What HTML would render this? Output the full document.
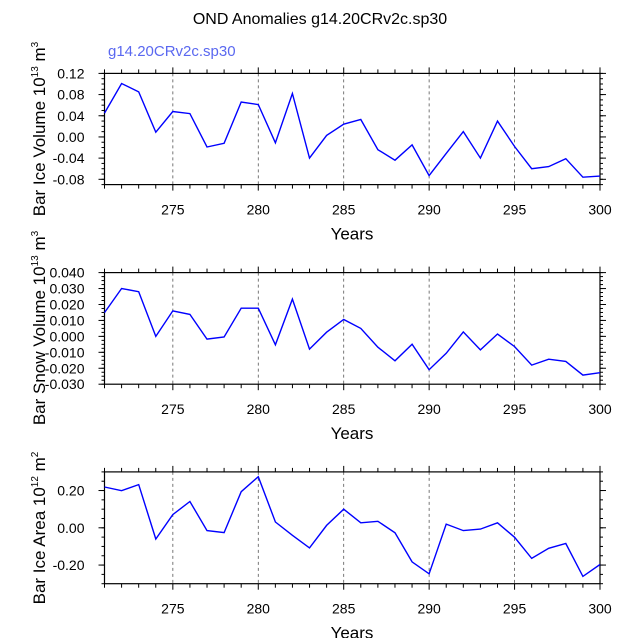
<!DOCTYPE html>
<html><head><meta charset="utf-8"><style>
html,body{margin:0;padding:0;background:#fff}
svg{display:block;font-family:"Liberation Sans",Arial,sans-serif}
</style></head><body>
<svg id="c" width="638" height="638" viewBox="0 0 638 638">
<text x="320" y="24" text-anchor="middle" font-size="16">OND Anomalies g14.20CRv2c.sp30</text>
<text x="108" y="56" font-size="15" fill="#5a68f0">g14.20CRv2c.sp30</text>
</svg>
<script>
const years = [271,272,273,274,275,276,277,278,279,280,281,282,283,284,285,286,287,288,289,290,291,292,293,294,295,296,297,298,299,300];
const iceVolume = [0.045,0.101,0.085,0.009,0.048,0.044,-0.019,-0.012,0.066,0.061,-0.011,0.082,-0.040,0.003,0.024,0.033,-0.024,-0.044,-0.015,-0.073,-0.031,0.010,-0.040,0.030,-0.018,-0.060,-0.056,-0.041,-0.076,-0.074];
const snowVolume = [0.0149,0.030,0.028,0.000,0.016,0.0138,-0.0017,-0.0004,0.0177,0.0177,-0.0053,0.0234,-0.008,0.0026,0.0106,0.005,-0.0068,-0.0153,-0.0049,-0.0209,-0.0106,0.0028,-0.0085,0.0015,-0.0064,-0.018,-0.0143,-0.0157,-0.0243,-0.0228];
const iceArea = [0.219,0.199,0.232,-0.060,0.071,0.141,-0.015,-0.026,0.194,0.274,0.031,-0.040,-0.108,0.013,0.100,0.027,0.035,-0.027,-0.183,-0.247,0.020,-0.015,-0.007,0.027,-0.051,-0.164,-0.110,-0.084,-0.261,-0.197];
const xTicks = [275,280,285,290,295,300];
const iceVolTicks = [-0.08,-0.04,0.00,0.04,0.08,0.12];
const snowTicks = [-0.03,-0.02,-0.01,0.00,0.01,0.02,0.03,0.04];
const areaTicks = [-0.20,0.00,0.20];

const NS="http://www.w3.org/2000/svg";
const svg=document.getElementById('c');
function mk(tag,attrs,parent){const e=document.createElementNS(NS,tag);for(const k in attrs)e.setAttribute(k,attrs[k]);(parent||svg).appendChild(e);return e;}
const X0=104.5,X1=600,XMIN=271,XMAX=300;
const sx=v=>X0+(v-XMIN)/(XMAX-XMIN)*(X1-X0);

function panel(name,data,ymin,ymax,top,bot,ticks,minorStep,dec,label,yc){
  const g=mk('g',{});
  
  
  const sy=v=>bot-(v-ymin)/(ymax-ymin)*(bot-top);
  xTicks.forEach(t=>{if(t<XMAX){const l=mk('line',{x1:sx(t),x2:sx(t),y1:top,y2:bot,stroke:'#555','stroke-width':0.8,'stroke-dasharray':'3,3'},g);
    
    }});
  for(let y=XMIN;y<=XMAX;y++){
    const maj=xTicks.includes(y);const len=maj?6:4;
    mk('line',{x1:sx(y),x2:sx(y),y1:bot,y2:bot+len,stroke:'#000','stroke-width':1},g);
    mk('line',{x1:sx(y),x2:sx(y),y1:top,y2:top-len,stroke:'#000','stroke-width':1},g);
  }
  xTicks.forEach(t=>{const tx=mk('text',{x:sx(t),y:bot+30,'text-anchor':'middle','font-size':14},g);tx.textContent=t;
    
    });
  for(let v=Math.ceil(ymin/minorStep-1e-6)*minorStep;v<=ymax+1e-9;v+=minorStep){
    mk('line',{x1:X0,x2:X0-3,y1:sy(v),y2:sy(v),stroke:'#000','stroke-width':1},g);
    mk('line',{x1:X1,x2:X1+3,y1:sy(v),y2:sy(v),stroke:'#000','stroke-width':1},g);
  }
  ticks.forEach(t=>{
    mk('line',{x1:X0,x2:X0-6,y1:sy(t),y2:sy(t),stroke:'#000','stroke-width':1},g);
    mk('line',{x1:X1,x2:X1+6,y1:sy(t),y2:sy(t),stroke:'#000','stroke-width':1},g);
    const tx=mk('text',{x:X0-20,y:sy(t)+5,'text-anchor':'end','font-size':14},g);tx.textContent=t.toFixed(dec);
    
    
  });
  const fr=mk('rect',{x:X0,y:top,width:X1-X0,height:bot-top,fill:'none',stroke:'#000','stroke-width':1.2},g);
  
  
  const pts=data.map((v,i)=>sx(years[i]).toFixed(1)+','+sy(v).toFixed(1)).join(' ');
  const pl=mk('polyline',{points:pts,fill:'none',stroke:'#0000ff','stroke-width':1.4},g);
  
  
  const yt=mk('text',{x:0,y:0,'text-anchor':'middle','font-size':17,transform:`translate(45,${yc}) rotate(-90)`},g);
  yt.innerHTML=label;
  
  
  const xt=mk('text',{x:352,y:bot+55,'text-anchor':'middle','font-size':17},g);xt.textContent='Years';
  
  
}
panel('ice-volume',iceVolume,-0.09,0.12,73.4,184.6,iceVolTicks,0.01,2,'Bar Ice Volume 10<tspan font-size="10" dy="-7">13</tspan><tspan dy="7"> m</tspan><tspan font-size="10" dy="-7">3</tspan>',129);
panel('snow-volume',snowVolume,-0.03,0.04,272.6,384.2,snowTicks,0.0025,3,'Bar Snow Volume 10<tspan font-size="10" dy="-7">13</tspan><tspan dy="7"> m</tspan><tspan font-size="10" dy="-7">3</tspan>',328);
panel('ice-area',iceArea,-0.30,0.30,471.9,583.7,areaTicks,0.05,2,'Bar Ice Area 10<tspan font-size="10" dy="-7">12</tspan><tspan dy="7"> m</tspan><tspan font-size="10" dy="-7">2</tspan>',528);
</script>
</body></html>
